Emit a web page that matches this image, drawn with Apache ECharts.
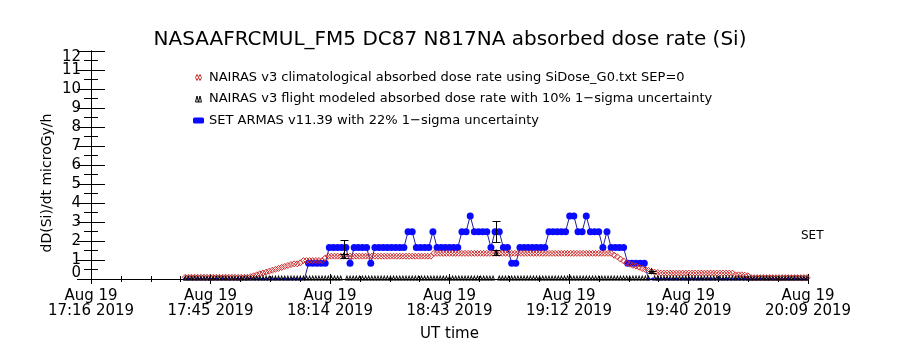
<!DOCTYPE html>
<html>
<head>
<meta charset="utf-8">
<script src="https://cdn.jsdelivr.net/npm/echarts@6/dist/echarts.min.js"></script>
<style>
  html, body { margin: 0; padding: 0; background: #fff; }
  #chart { width: 900px; height: 350px; }
</style>
</head>
<body>
<div id="chart"></div>
<script>
// x is minutes after Aug 19 17:16:10 UT
var axisMax = 173
var tickLabels = ['Aug 19\n17:16 2019', 'Aug 19\n17:45 2019', 'Aug 19\n18:14 2019', 'Aug 19\n18:43 2019',
  'Aug 19\n19:12 2019', 'Aug 19\n19:40 2019', 'Aug 19\n20:09 2019']

// NAIRAS climatological, sampled every 45 s
var redStart = 22.75
var redStep = 0.75
var redValues = [
  0.09, 0.09, 0.09, 0.09, 0.09, 0.09, 0.09, 0.09, 0.09, 0.09, 0.09,
  0.09, 0.09, 0.09, 0.09, 0.09, 0.09, 0.09, 0.09, 0.09, 0.09,
  0.12, 0.17, 0.22, 0.27, 0.31, 0.36, 0.41, 0.46, 0.51, 0.56, 0.61, 0.66, 0.71, 0.76,
  0.8, 0.8, 0.85,
  0.97, 0.97, 0.97, 0.97, 0.97, 0.97, 0.97,
  1.1,
  1.2, 1.2, 1.2, 1.2, 1.2, 1.2, 1.2, 1.2, 1.2, 1.2, 1.2, 1.2,
  1.2, 1.2, 1.2, 1.2, 1.2, 1.2, 1.2, 1.2, 1.2, 1.2, 1.2, 1.2,
  1.2, 1.2, 1.2, 1.2, 1.2, 1.2, 1.2, 1.2, 1.2, 1.2,
  1.35, 1.35, 1.35, 1.35, 1.35, 1.35, 1.35, 1.35, 1.35, 1.35,
  1.35, 1.35, 1.35, 1.35, 1.35, 1.35, 1.35, 1.35, 1.35, 1.35,
  1.35, 1.35, 1.35, 1.35, 1.35, 1.35, 1.35, 1.35, 1.35, 1.35,
  1.35, 1.35, 1.35, 1.35, 1.35, 1.35, 1.35, 1.35, 1.35, 1.35,
  1.35, 1.35, 1.35, 1.35, 1.35, 1.35, 1.35, 1.35, 1.35, 1.35,
  1.35, 1.35, 1.35, 1.35, 1.35, 1.35, 1.35, 1.35,
  1.25, 1.17, 1.05, 0.95, 0.85, 0.78, 0.72, 0.68, 0.62, 0.55, 0.5, 0.45, 0.4, 0.36, 0.34,
  0.31, 0.31, 0.31, 0.31, 0.31, 0.31, 0.31, 0.31, 0.31, 0.31, 0.31, 0.31,
  0.31, 0.31, 0.31, 0.31, 0.31, 0.31, 0.31, 0.31, 0.31, 0.31, 0.31, 0.31,
  0.22, 0.22, 0.22, 0.2, 0.17,
  0.07, 0.07, 0.07, 0.07, 0.07, 0.07, 0.07, 0.07, 0.07, 0.07,
  0.07, 0.07, 0.07, 0.07, 0.07, 0.07, 0.07, 0.07, 0.07
]

// NAIRAS flight modeled, same 45 s grid
var flightValues = [
  0, 0, 0, 0, 0, 0, 0, 0, 0, 0, 0, 0, 0, 0, 0, 0, 0, 0, 0, 0,
  0, 0, 0, 0, 0, 0, 0, 0, 0, 0, 0, 0, 0, 0, 0, 0, 0, 0, 0, 0,
  0, 0, 0, 0, 0, 0, 0, 0, 0, 0, 0, 1.2, 0, 0, 0, 0, 0, 0, 0, 0,
  0, 0, 0, 0, 0, 0, 0, 0, 0, 0, 0, 0, 0, 0, 0, 0, 0, 0, 0, 0,
  0, 0, 0, 0, 0, 0, 0, 0, 0, 0, 0, 0, 0, 0, 0, 0, 0, 0, 0, 0,
  1.37, 0, 0, 0, 0, 0, 0, 0, 0, 0, 0, 0, 0, 0, 0, 0, 0, 0, 0, 0,
  0, 0, 0, 0, 0, 0, 0, 0, 0, 0, 0, 0, 0, 0, 0, 0, 0, 0, 0, 0,
  0, 0, 0, 0, 0, 0, 0, 0, 0, 0, 0.38, 0, 0, 0, 0, 0, 0, 0, 0, 0,
  0, 0, 0, 0, 0, 0, 0, 0, 0, 0, 0, 0, 0, 0, 0, 0, 0, 0, 0, 0,
  0, 0, 0, 0, 0, 0, 0, 0, 0, 0, 0, 0, 0, 0, 0, 0, 0, 0, 0, 0,
  0
]

// SET ARMAS, one sample a minute
var blueStart = 22.5
var blueStep = 1
var blueValues = [
  0, 0, 0, 0, 0, 0, 0, 0, 0, 0,
  0, 0, 0, 0, 0, 0, 0, 0, 0, 0,
  0, 0, 0, 0, 0, 0, 0, 0, 0, 0,
  0.83, 0.83, 0.83, 0.83, 0.83,
  1.66, 1.66, 1.66, 1.66, 1.66,
  0.83,
  1.66, 1.66, 1.66, 1.66,
  0.83,
  1.66, 1.66, 1.66, 1.66, 1.66, 1.66, 1.66, 1.66,
  2.49, 2.49,
  1.66, 1.66, 1.66, 1.66,
  2.49,
  1.66, 1.66, 1.66, 1.66, 1.66, 1.66,
  2.49, 2.49,
  3.32,
  2.49, 2.49, 2.49, 2.49,
  1.66,
  2.49, 2.49,
  1.66, 1.66,
  0.83, 0.83,
  1.66, 1.66, 1.66, 1.66, 1.66, 1.66, 1.66,
  2.49, 2.49, 2.49, 2.49, 2.49,
  3.32, 3.32,
  2.49, 2.49,
  3.32,
  2.49, 2.49, 2.49,
  1.66,
  2.49,
  1.66, 1.66, 1.66, 1.66,
  0.83, 0.83, 0.83, 0.83, 0.83,
  0, 0, 0, 0, 0, 0, 0, 0, 0, 0,
  0, 0, 0, 0, 0, 0, 0, 0, 0, 0,
  0, 0, 0, 0, 0, 0, 0, 0, 0, 0,
  0, 0, 0, 0, 0, 0, 0, 0, 0
]

// comparison points with 1-sigma bars
var errTimes = [61.0, 97.75, 135.25]
var setLow = [1.29, 1.94, 0]
var setHigh = [2.04, 3.04, 0]
var flightLow = [1.08, 1.24, 0.34]
var flightHigh = [1.32, 1.51, 0.42]

var nameRed = 'NAIRAS v3 climatological absorbed dose rate using SiDose_G0.txt SEP=0'
var nameBlack = 'NAIRAS v3 flight modeled absorbed dose rate with 10% 1\u2212sigma uncertainty'
var nameBlue = 'SET ARMAS v11.39 with 22% 1\u2212sigma uncertainty'

var font = 'DejaVu Sans'
var chart = echarts.init(document.getElementById('chart'))

var redData = redValues.map(function (v, j) { return [redStart + j * redStep, v] })
var flightData = flightValues.map(function (v, j) { return [redStart + j * redStep, v] })
var blueData = blueValues.map(function (v, i) { return [blueStart + i * blueStep, v] })
var errData = []
for (var k = 0; k < errTimes.length; k++) {
  errData.push([errTimes[k], setLow[k], setHigh[k]])
  errData.push([errTimes[k], flightLow[k], flightHigh[k]])
}

function errBar (params, api) {
  var lo = api.coord([api.value(0), api.value(1)])
  var hi = api.coord([api.value(0), api.value(2)])
  var x = Math.round(lo[0]) + 0.5
  var w = 4
  var st = { stroke: '#000', lineWidth: 1 }
  return {
    type: 'group',
    children: [
      { type: 'line', shape: { x1: x, y1: lo[1], x2: x, y2: hi[1] }, style: st },
      { type: 'line', shape: { x1: x - w, y1: Math.round(lo[1]) + 0.5, x2: x + w, y2: Math.round(lo[1]) + 0.5 }, style: st },
      { type: 'line', shape: { x1: x - w, y1: Math.round(hi[1]) + 0.5, x2: x + w, y2: Math.round(hi[1]) + 0.5 }, style: st }
    ]
  }
}

var xMajor = axisMax / 6

function xAxisOpt (pos, labels) {
  return {
    type: 'value',
    position: pos,
    min: 0,
    max: axisMax,
    interval: xMajor,
    axisLine: { show: true, lineStyle: { color: '#000', width: 1 } },
    axisTick: { inside: true, length: 5, lineStyle: { color: '#000' } },
    minorTick: { show: true, splitNumber: 4, length: 3, lineStyle: { color: '#000' } },
    splitLine: { show: false },
    axisLabel: labels ? {
      formatter: function (v) { return tickLabels[Math.round(v / xMajor)] },
      fontFamily: font, fontSize: 15, lineHeight: 15, color: '#000', margin: 10,
      showMinLabel: true, showMaxLabel: true, hideOverlap: false
    } : { show: false }
  }
}

function yAxisOpt (pos, labels) {
  return {
    type: 'value',
    position: pos,
    min: 0,
    max: 12,
    interval: 1,
    axisLine: { show: true, lineStyle: { color: '#000' } },
    axisTick: { inside: true, length: 14, lineStyle: { color: '#000' } },
    minorTick: { show: true, splitNumber: 2, length: 7, lineStyle: { color: '#000' } },
    splitLine: { show: false },
    // 0 and 12 come from the label-only axis below
    axisLabel: labels ? {
      fontFamily: font, fontSize: 15, color: '#000', margin: 10,
      showMinLabel: false, showMaxLabel: false, hideOverlap: false
    } : { show: false }
  }
}

var xBottom = xAxisOpt('bottom', true)
xBottom.name = 'UT time'
xBottom.nameLocation = 'middle'
xBottom.nameGap = 48
xBottom.nameTextStyle = { fontFamily: font, fontSize: 15, color: '#000' }

chart.setOption({
  animation: false,
  backgroundColor: '#fff',
  title: {
    text: 'NASAAFRCMUL_FM5 DC87 N817NA absorbed dose rate (Si)',
    left: 'center',
    top: 25,
    textStyle: { fontFamily: font, fontSize: 20, fontWeight: 'normal', color: '#000' }
  },
  legend: {
    orient: 'vertical',
    left: 188,
    top: 65,
    itemWidth: 11,
    itemHeight: 6,
    itemGap: 6.5,
    textStyle: { fontFamily: font, fontSize: 13, color: '#000', lineHeight: 15 },
    data: [
      { name: nameRed, icon: 'path://M0,5L2.5,0L5,5L2.5,10ZM5,5L7.5,0L10,5L7.5,10Z', itemStyle: { color: 'rgba(0,0,0,0)', borderColor: '#cc2a2a', borderWidth: 1 } },
      { name: nameBlack, icon: 'path://M0,10L2.5,0L5,10ZM5,10L7.5,0L10,10Z', itemStyle: { color: 'rgba(0,0,0,0)', borderColor: '#000', borderWidth: 1 } },
      { name: nameBlue, icon: 'roundRect', itemStyle: { color: '#0a0aff', borderWidth: 0 } }
    ]
  },
  grid: { left: 91, right: 92, top: 51, bottom: 71 },
  xAxis: [xBottom, xAxisOpt('top', false)],
  yAxis: [
    yAxisOpt('left', true),
    yAxisOpt('right', false),
    {
      type: 'value',
      position: 'left',
      min: 0,
      max: 12,
      interval: 12,
      axisLine: { show: false },
      axisTick: { show: false },
      splitLine: { show: false },
      axisLabel: {
        fontFamily: font, fontSize: 15, lineHeight: 12, color: '#000', margin: 10,
        showMinLabel: true, showMaxLabel: true, hideOverlap: false,
        verticalAlignMinLabel: 'bottom', verticalAlignMaxLabel: 'top'
      }
    }
  ],
  graphic: [
    {
      type: 'text', x: 47, y: 183, rotation: Math.PI / 2,
      style: { text: 'dD(Si)/dt microGy/h', font: '14px "DejaVu Sans"', fill: '#000',
        align: 'center', verticalAlign: 'middle', textAlign: 'center', textVerticalAlign: 'middle' }
    },
    {
      type: 'text', left: 801, top: 230,
      style: { text: 'SET', font: '12px "DejaVu Sans"', fill: '#000' }
    }
  ],
  series: [
    {
      name: nameBlue,
      type: 'line',
      data: blueData,
      symbol: 'circle',
      symbolSize: function (d) { return d[1] > 0 ? 7 : 3 },
      showAllSymbol: true,
      itemStyle: { color: '#0a0aff' },
      lineStyle: { color: '#1e1e9a', width: 1 },
      z: 2
    },
    {
      name: nameRed,
      type: 'scatter',
      data: redData,
      symbol: 'diamond',
      symbolSize: [6, 6],
      itemStyle: { color: 'rgba(0,0,0,0)', borderColor: '#cc2a2a', borderWidth: 1, opacity: 1 },
      z: 3
    },
    {
      name: nameBlack,
      type: 'scatter',
      data: flightData,
      symbol: 'triangle',
      symbolSize: [3, 4],
      symbolOffset: [0, -1],
      itemStyle: { color: 'rgba(0,0,0,0)', borderColor: '#000', borderWidth: 1, opacity: 1 },
      z: 4
    },
    {
      name: nameBlack,
      type: 'custom',
      data: errData,
      renderItem: errBar,
      z: 5
    }
  ]
})
</script>
</body>
</html>
